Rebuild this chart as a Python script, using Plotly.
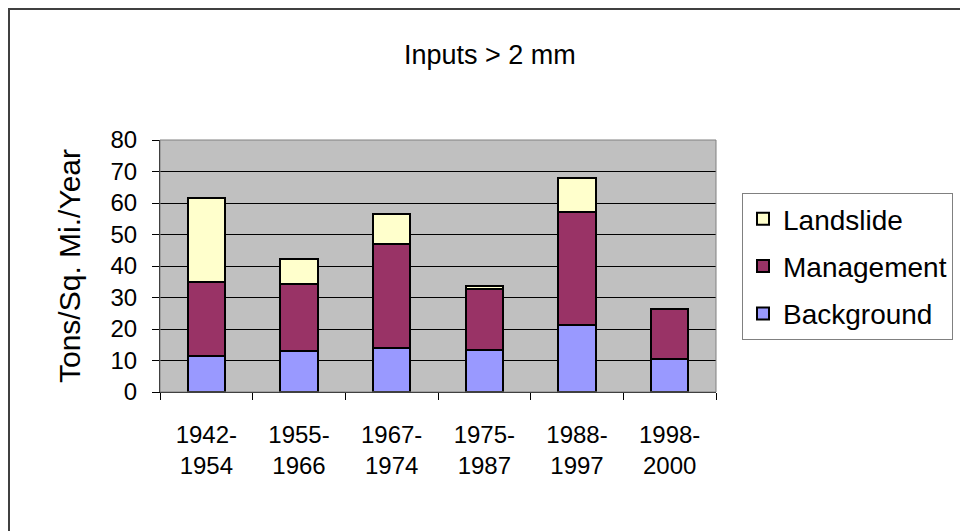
import plotly.graph_objects as go

categories = ["1942-<br>1954", "1955-<br>1966", "1967-<br>1974", "1975-<br>1987", "1988-<br>1997", "1998-<br>2000"]
background = [11.4, 12.9, 14.1, 13.4, 21.4, 10.6]
management = [23.5, 21.4, 33.0, 19.3, 35.6, 15.8]
landslide = [26.6, 7.9, 9.4, 0.9, 10.9, 0.0]

title_text = "Inputs > 2 mm"
y_title = "Tons/Sq. Mi./Year"

FONT = "Liberation Sans, Arial, sans-serif"
line = dict(color="black", width=2)

fig = go.Figure()
fig.add_trace(go.Bar(name="Background", x=categories, y=background,
                     marker=dict(color="#9999FF", line=line),
                     legendgroup="a", legendrank=3))
fig.add_trace(go.Bar(name="Management", x=categories, y=management,
                     marker=dict(color="#993366", line=line),
                     legendgroup="b", legendrank=2))
fig.add_trace(go.Bar(name="Landslide", x=categories, y=landslide,
                     marker=dict(color="#FFFFCC", line=line),
                     legendgroup="c", legendrank=1))

# page has an 8px body margin; figure sized to fill the rest of the window
OFF = 8
W, H = 960, 523
L, R, T, B = 152, 252, 132, 139
pw, ph = W - L - R, H - T - B

def px(x):
    return (x - OFF - L) / pw

def py(y):
    return (H - B - (y - OFF)) / ph

fig.update_layout(
    width=W, height=H,
    margin=dict(l=L, r=R, t=T, b=B),
    barmode="stack",
    bargap=0.6,
    paper_bgcolor="white",
    plot_bgcolor="#C0C0C0",
    font=dict(family=FONT, size=24, color="black"),
    showlegend=True,
    legend=dict(
        x=px(742), y=py(193), xanchor="left", yanchor="top",
        bordercolor="#808080", borderwidth=1, bgcolor="white",
        font=dict(size=28, family=FONT),
        traceorder="grouped", tracegroupgap=8,
    ),
    xaxis=dict(
        showline=True, linecolor="black", linewidth=1,
        ticks="outside", tickson="boundaries", ticklen=7, tickcolor="black",
        tickfont=dict(size=24), showgrid=False,
        ticklabelstandoff=21,
    ),
    yaxis=dict(
        range=[0, 80], dtick=10,
        showline=True, linecolor="black", linewidth=1,
        ticks="outside", ticklen=7, tickcolor="black",
        showgrid=True, gridcolor="black", gridwidth=1,
        tickfont=dict(size=24),
        ticklabelstandoff=10,
        title=dict(text=y_title, font=dict(size=30), standoff=20),
        zeroline=False,
    ),
    shapes=[
        dict(type="rect", xref="paper", yref="paper", x0=0, x1=1, y0=0, y1=1,
             line=dict(color="#808080", width=1), layer="above"),
        dict(type="rect", xref="paper", yref="paper",
             x0=px(9), x1=px(990), y0=py(560), y1=py(9),
             line=dict(color="#404040", width=2)),
    ],
    annotations=[
        dict(text=title_text, xref="paper", yref="paper", x=px(490), y=py(55),
             showarrow=False, font=dict(size=27), xanchor="center", yanchor="middle"),
    ],
)

fig.write_html("out.html")
